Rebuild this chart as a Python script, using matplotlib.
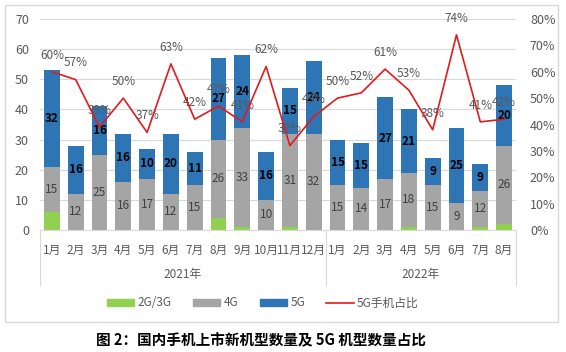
import numpy as np
import matplotlib.pyplot as plt
from matplotlib.patches import Rectangle
from matplotlib.lines import Line2D

plt.rcParams['font.family'] = ['Noto Sans CJK SC', 'DejaVu Sans']

months = ['1月', '2月', '3月', '4月', '5月', '6月', '7月', '8月', '9月', '10月', '11月', '12月',
          '1月', '2月', '3月', '4月', '5月', '6月', '7月', '8月']
years = ['2021年', '2022年']
g23 = [6, 0, 0, 0, 0, 0, 0, 4, 1, 0, 1, 0, 0, 0, 0, 1, 0, 0, 1, 2]
g4 = [15, 12, 25, 16, 17, 12, 15, 26, 33, 10, 31, 32, 15, 14, 17, 18, 15, 9, 12, 26]
g5 = [32, 16, 16, 16, 10, 20, 11, 27, 24, 16, 15, 24, 15, 15, 27, 21, 9, 25, 9, 20]
ratio = [60, 57, 39, 50, 37, 63, 42, 47, 41, 62, 32, 43, 50, 52, 61, 53, 38, 74, 41, 42]

c_green = '#92D050'
c_gray = '#A5A5A5'
c_blue = '#2E75B6'
c_red = '#E31A1C'
c_txt = '#595959'

fig = plt.figure(figsize=(5.66, 3.52), dpi=100)
ax = fig.add_axes([40 / 566, 122 / 352, 476 / 566, 211 / 352])
ax2 = ax.twinx()

x = np.arange(len(months))
w = 0.67
g23 = np.array(g23)
g4 = np.array(g4)
g5 = np.array(g5)
ax.bar(x, g23, w, color=c_green, zorder=2)
ax.bar(x, g4, w, bottom=g23, color=c_gray, zorder=2)
ax.bar(x, g5, w, bottom=g23 + g4, color=c_blue, zorder=2)

for i in range(len(x)):
    ax.text(x[i], g23[i] + g4[i] / 2, str(g4[i]), ha='center', va='center',
            fontsize=8.5, color='#404040', zorder=3)
    ax.text(x[i], g23[i] + g4[i] + g5[i] / 2, str(g5[i]), ha='center', va='center',
            fontsize=8.5, color='black', fontweight='bold', zorder=3)

ax.set_xlim(-0.5, len(x) - 0.5)
ax.set_ylim(0, 70)
ax.set_yticks(range(0, 71, 10))
ax.grid(axis='y', color='#D9D9D9', linewidth=0.8, zorder=0)
ax.set_axisbelow(True)
ax.set_xticks(x)
ax.set_xticklabels(months, fontsize=8.5, color=c_txt)
ax.tick_params(axis='x', length=0, pad=10)
ax.tick_params(axis='y', length=0, labelsize=9, labelcolor=c_txt, pad=8)
for s in ['top', 'right', 'left']:
    ax.spines[s].set_visible(False)
ax.spines['bottom'].set_color('#D9D9D9')

r = np.array(ratio) / 100
ax2.plot(x, r, color=c_red, linewidth=1.2, zorder=4)
for i in range(len(x)):
    ax2.annotate(f'{ratio[i]}%', (x[i], r[i]), xytext=(0, 12), textcoords='offset points',
                 ha='center', va='center', fontsize=8.5, color=c_txt)
ax2.set_ylim(0, 0.8)
ax2.set_yticks(np.arange(0, 0.81, 0.1))
ax2.set_yticklabels([f'{v}%' for v in range(0, 81, 10)])
ax2.tick_params(axis='y', length=0, labelsize=9, labelcolor=c_txt, pad=10)
for s in ax2.spines.values():
    s.set_visible(False)

# category group separators and year labels
trans = ax.get_xaxis_transform()
for xs in [-0.5, 11.5, 19.5]:
    ax.plot([xs, xs], [0, -0.26], transform=trans, color='#D9D9D9', linewidth=0.8, clip_on=False)
ax.text(5.5, -0.213, years[0], transform=trans, ha='center', va='center', fontsize=8.5, color=c_txt)
ax.text(15.5, -0.213, years[1], transform=trans, ha='center', va='center', fontsize=8.5, color=c_txt)

handles = [Rectangle((0, 0), 1, 1, color=c_green), Rectangle((0, 0), 1, 1, color=c_gray),
           Rectangle((0, 0), 1, 1, color=c_blue), Line2D([0], [0], color=c_red, linewidth=1.2)]
leg = fig.legend(handles, ['2G/3G', '4G', '5G', '5G手机占比'], loc='center', ncol=4,
                 bbox_to_anchor=(263 / 566, 1 - 303 / 352), frameon=False, fontsize=8.5,
                 handlelength=2.3, handleheight=0.6, columnspacing=1.8, handletextpad=0.3)
for t in leg.get_texts():
    t.set_color(c_txt)

fig.patches.append(Rectangle((5 / 566, 30 / 352), 553 / 566, 317 / 352, transform=fig.transFigure,
                             fill=False, edgecolor='#D9D9D9', linewidth=1))

fig.text(261 / 566, 1 - 340 / 352, '图 2：国内手机上市新机型数量及 5G 机型数量占比',
         ha='center', va='center', fontsize=10.5, fontweight='heavy', color='black')

fig.savefig('out.png', dpi=100)
